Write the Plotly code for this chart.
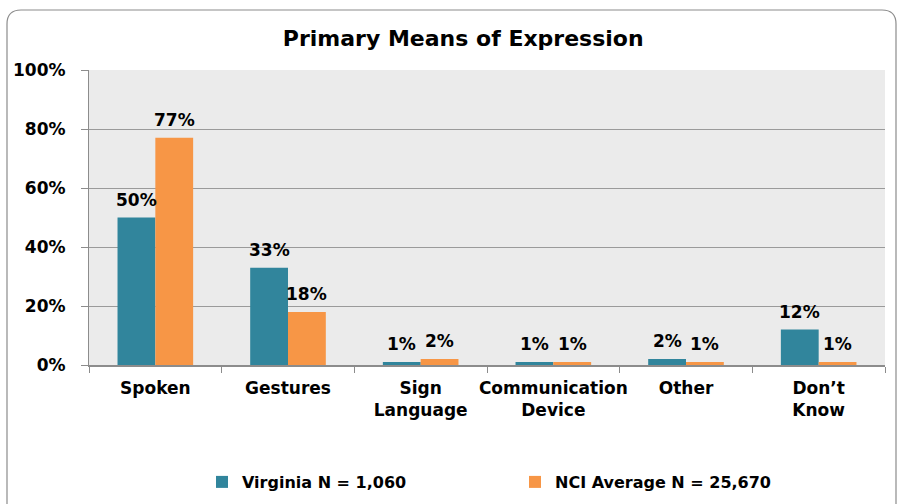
import plotly.graph_objects as go

categories = ["Spoken", "Gestures", "Sign<br>Language", "Communication<br>Device", "Other", "Don’t<br>Know"]
virginia = [50, 33, 1, 1, 2, 12]
nci = [77, 18, 2, 1, 1, 1]
series_names = ["Virginia N = 1,060", "NCI Average N = 25,670"]
series_colors = ["#31859C", "#F79646"]
y_ticks = [0, 20, 40, 60, 80, 100]
y_tick_labels = ["0%", "20%", "40%", "60%", "80%", "100%"]

FONT = "DejaVu Sans"
L, R, T, B = 89, 18, 70, 139
W, H = 903, 504
pw, ph = W - L - R, H - T - B
BARGAP = 0.43

def px(x):
    return (x - L) / pw

def py(y):
    return (H - B - y) / ph

def bold(size):
    return dict(family=FONT, size=size, color="#000", weight="bold")

fig = go.Figure()
for name, vals, col in zip(series_names, [virginia, nci], series_colors):
    fig.add_trace(go.Bar(x=categories, y=vals, name=name,
                         marker=dict(color=col, line=dict(width=0))))

# data labels above bars (annotations anchored to the data values)
bar_w = pw / len(categories) * (1 - BARGAP) / 2
annotations = []
for k, vals in enumerate([virginia, nci]):
    shift = (k - 0.5) * bar_w
    for c, v in zip(categories, vals):
        annotations.append(dict(x=c, y=v, xref="x", yref="y", text=f"{v}%",
                                showarrow=False, xshift=shift, yshift=6,
                                yanchor="bottom", xanchor="center", font=bold(17)))

# rounded outer frame
x0, x1, y0, y1, r = 7, 896, 10, 520, 14
rx, ry = r / pw, r / ph
X0, X1, Y0, Y1 = px(x0), px(x1), py(y0), py(y1)
path = (f"M {X0+rx},{Y0} L {X1-rx},{Y0} Q {X1},{Y0} {X1},{Y0-ry} "
        f"L {X1},{Y1+ry} Q {X1},{Y1} {X1-rx},{Y1} L {X0+rx},{Y1} "
        f"Q {X0},{Y1} {X0},{Y1+ry} L {X0},{Y0-ry} Q {X0},{Y0} {X0+rx},{Y0} Z")

fig.update_layout(
    width=W, height=H,
    margin=dict(l=L, r=R, t=T, b=B, autoexpand=False),
    paper_bgcolor="white", plot_bgcolor="#EBEBEB",
    barmode="group", bargap=BARGAP, bargroupgap=0,
    font=dict(family=FONT, color="#000"),
    title=dict(text="Primary Means of Expression", x=0.513, xanchor="center",
               y=1 - 38 / H, yanchor="middle", font=bold(22)),
    showlegend=True,
    legend=dict(orientation="h", x=px(202), xanchor="left", y=py(482), yanchor="middle",
                entrywidth=268, entrywidthmode="pixels", tracegroupgap=0,
                font=bold(16), bgcolor="rgba(0,0,0,0)"),
    annotations=annotations,
    shapes=[dict(type="path", xref="paper", yref="paper", path=path,
                 line=dict(color="#8C8C8C", width=1.2), fillcolor="rgba(0,0,0,0)", layer="below")],
)

fig.update_xaxes(type="category", tickson="boundaries", ticks="outside", ticklen=6,
                 tickcolor="#8C8C8C", showline=True, linecolor="#8C8C8C", linewidth=1.5,
                 tickangle=0, tickfont=bold(17), ticklabelstandoff=7,
                 showgrid=False, automargin=False)
fig.update_yaxes(range=[0, 100], tickvals=y_ticks, ticktext=y_tick_labels, ticks="outside", ticklen=7,
                 tickcolor="#8C8C8C", showline=True, linecolor="#8C8C8C", linewidth=1.2,
                 gridcolor="#9A9A9A", gridwidth=1, zeroline=False, automargin=False,
                 tickfont=bold(17), ticklabelstandoff=12)

fig.write_html("out.html", config={"displayModeBar": False},
               post_script="document.body.style.margin='0';")
